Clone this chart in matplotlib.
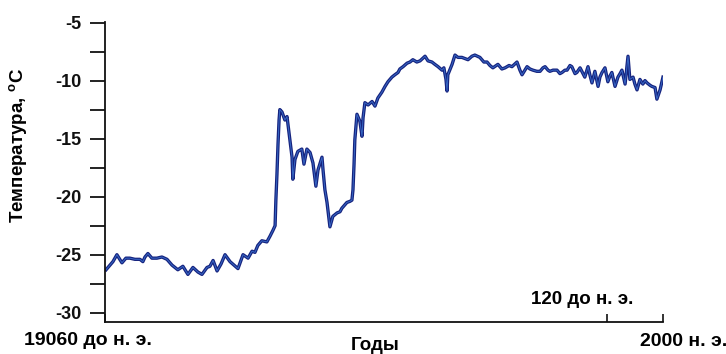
import matplotlib
matplotlib.use("Agg")
import matplotlib.pyplot as plt

# GISP2-like temperature record, years (negative = BC) and temperature, deg C
years = [
    -19020, -18760, -18610, -18420, -18270, -18120, -17930, -17740, -17630, -17550,
    -17440, -17290, -17100, -16910, -16720, -16530, -16310, -16120, -15930, -15740,
    -15550, -15400, -15210, -15100, -14980, -14830, -14680, -14530, -14340, -14190,
    -14040, -13850, -13660, -13510, -13400, -13290, -13140, -12950, -12830, -12720,
    -12640, -12610, -12570, -12530, -12490, -12460,
    -12380, -12270, -12190, -12080, -12000, -11970, -11890, -11780, -11630, -11550,
    -11440, -11320, -11210, -11100, -11020, -10870, -10830, -10760, -10680, -10570,
    -10460, -10300, -10190, -10120, -9930, -9810, -9740, -9700, -9660, -9630,
    -9550, -9440, -9360, -9320, -9250,
    -9130, -8980, -8870, -8760, -8610, -8490, -8380, -8230, -8120, -8000,
    -7930, -7810, -7660, -7550, -7440, -7290, -7170, -6980, -6870, -6720,
    -6610, -6490, -6340, -6270, -6190, -6150, -6120, -5960, -5850, -5740,
    -5590, -5360, -5210, -5100, -4910, -4760, -4640, -4530, -4420, -4230,
    -4080, -3960, -3810, -3700, -3510, -3400, -3320, -3210, -3130, -3020,
    -2910, -2760, -2640, -2530, -2450, -2340, -2270, -2150, -2000, -1890,
    -1810, -1700, -1620, -1510, -1440, -1320, -1250, -1130, -1020, -950,
    -830, -760, -680, -570, -450, -380, -300, -190, -80, 0,
    70, 190, 300, 380, 450, 570, 680, 750, 870, 940,
    1020, 1130, 1240, 1320, 1400, 1510, 1580, 1700, 1770, 1890,
    2000,
]
temps = [
    -26.3, -25.6, -25.0, -25.7, -25.3, -25.3, -25.4, -25.4, -25.6, -25.2,
    -24.9, -25.3, -25.3, -25.2, -25.4, -25.9, -26.3, -26.0, -26.7, -26.1,
    -26.5, -26.7, -26.1, -26.0, -25.5, -26.4, -25.8, -25.0, -25.6, -25.9,
    -26.2, -25.0, -25.3, -24.7, -24.8, -24.2, -23.8, -23.9, -23.4, -22.9,
    -22.5, -20.3, -18.1, -15.5, -13.4, -12.5,
    -12.7, -13.4, -13.1, -15.1, -16.6, -18.5, -16.8, -16.1, -15.9, -17.2,
    -15.9, -16.2, -17.1, -19.1, -17.7, -16.6, -17.7, -19.4, -20.5, -22.6,
    -21.7, -21.4, -21.3, -21.0, -20.5, -20.4, -20.3, -19.4, -17.2, -15.1,
    -12.9, -13.5, -14.8, -13.2, -11.9,
    -12.1, -11.8, -12.2, -11.5, -11.0, -10.5, -10.1, -9.7, -9.5, -9.3,
    -9.0, -8.8, -8.5, -8.4, -8.2, -8.4, -8.3, -7.9, -8.3, -8.4,
    -8.6, -8.8, -9.1, -8.9, -9.9, -10.9, -9.5, -8.6, -7.8, -8.0,
    -8.0, -8.2, -7.9, -7.8, -8.0, -8.4, -8.4, -8.7, -8.9, -8.6,
    -9.0, -8.9, -8.7, -8.8, -8.4, -9.1, -9.5, -9.1, -8.8, -9.0,
    -9.1, -9.2, -9.2, -8.9, -8.8, -9.1, -9.2, -9.1, -9.1, -9.4,
    -9.3, -9.1, -9.1, -8.7, -8.8, -9.4, -9.3, -8.9, -9.4, -9.7,
    -8.8, -9.5, -10.2, -9.2, -10.5, -9.7, -9.3, -8.9, -10.1, -9.6,
    -9.3, -10.5, -9.7, -9.4, -9.1, -10.3, -7.9, -9.9, -9.7, -10.3,
    -10.8, -9.9, -10.3, -10.0, -10.2, -10.4, -10.5, -10.6, -11.6, -10.8,
    -9.7,
]

y_ticks = [-30, -25, -20, -15, -10, -5]
y_minor = [-27.5, -22.5, -17.5, -12.5, -7.5]
x_ticks = [-19060, -120, 2000]
x_labels = ["19060 до н. э.", "120 до н. э.", "2000 н. э."]

plt.rcParams["font.family"] = ["Liberation Sans", "DejaVu Sans"]
plt.rcParams["font.weight"] = "bold"
plt.rcParams["axes.unicode_minus"] = False
plt.rcParams["mathtext.fontset"] = "custom"
plt.rcParams["mathtext.bf"] = "Liberation Sans:bold"
plt.rcParams["mathtext.rm"] = "Liberation Sans:bold"

fig = plt.figure(figsize=(7.26, 3.54), dpi=100)
ax = fig.add_axes([0.1446, 0.0904, 0.7686, 0.8475])

ax.plot(years, temps, color="#16237e", lw=2.4, solid_joinstyle="round")
ax.plot(years, temps, color="#3f78d6", lw=0.7, alpha=0.8)

ax.set_xlim(-19060, 2000)
ax.set_ylim(-30.8, -4.95)

for s in ["top", "right"]:
    ax.spines[s].set_visible(False)
for s in ["left", "bottom"]:
    ax.spines[s].set_linewidth(1.3)
    ax.spines[s].set_color("#111111")

ax.set_yticks(y_ticks)
ax.set_yticks(y_minor, minor=True)
ax.tick_params(axis="y", which="both", direction="out", length=11, width=1.3,
               labelsize=13, pad=6, colors="#111111")

ax.set_xticks(x_ticks)
ax.set_xticklabels([""] * len(x_ticks))
ax.tick_params(axis="x", direction="in", length=6, width=1.2, colors="#111111")

# x tick labels sit in odd places in the original, so put them by hand
ax.annotate(x_labels[0], xy=(x_ticks[0], 0), xycoords=("data", "axes fraction"),
            xytext=(-12, -13), textcoords="offset points", ha="center", va="center",
            fontsize=14, fontweight="bold", annotation_clip=False)
ax.annotate(x_labels[1], xy=(x_ticks[1], 0), xycoords=("data", "axes fraction"),
            xytext=(-18, 16), textcoords="offset points", ha="center", va="center",
            fontsize=13.5, fontweight="bold", annotation_clip=False)
ax.annotate(x_labels[2], xy=(x_ticks[2], 0), xycoords=("data", "axes fraction"),
            xytext=(-16.5, -14), textcoords="offset points", ha="left", va="center",
            fontsize=14, fontweight="bold", annotation_clip=False)

ax.set_xlabel("Годы", fontsize=13.5, fontweight="bold", va="center")
ax.xaxis.set_label_coords(0.484, -0.08)
ax.set_ylabel("Температура, $^{\\mathbf{o}}$C", fontsize=13.5, fontweight="bold")
ax.yaxis.set_label_coords(-0.154, 0.59)
ax.yaxis.label.set_verticalalignment("center")

fig.savefig("out.png", dpi=100)
